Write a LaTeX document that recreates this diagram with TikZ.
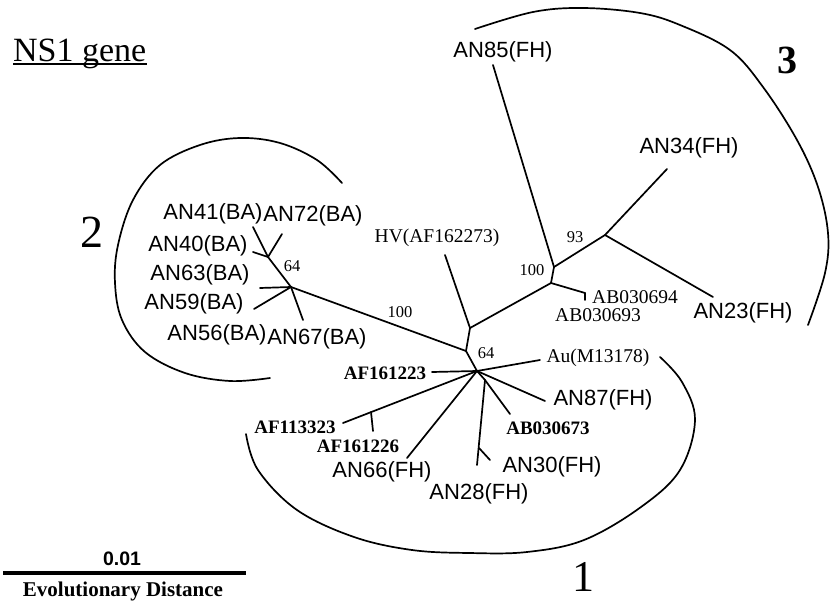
\documentclass[tikz,border=0pt]{standalone}
\usepackage{fontspec}
\setmainfont{Liberation Serif}
\newfontfamily\arialf{Liberation Sans}
\begin{document}
\begin{tikzpicture}[x=1pt,y=-1pt,
  br/.style={line width=1.7pt, line cap=round, line join=round},
  arcl/.style={line width=1.7pt, line cap=round},
  san/.style={font=\arialf\fontsize{22}{24}\selectfont, inner sep=0pt},
  ser/.style={font=\fontsize{19.5}{21}\selectfont, inner sep=0pt},
  serb/.style={font=\bfseries\fontsize{19}{21}\selectfont, inner sep=0pt},
  bs/.style={font=\fontsize{16.5}{18}\selectfont, inner sep=0pt},
  big/.style={font=\fontsize{46}{50}\selectfont, inner sep=0pt}]
\useasboundingbox (0,0) rectangle (833,605);

% ---- tree coordinates ----
% group 2
\coordinate (t41) at (253,227);
\coordinate (t72) at (282,234);
\coordinate (t40) at (253,252);
\coordinate (J1) at (268,257);
\coordinate (J2) at (291,287);
\coordinate (t63) at (260,288);
\coordinate (t59) at (254,309);
\coordinate (t67) at (303,320);
% core
\coordinate (B) at (466,351);
\coordinate (A) at (470,328);
\coordinate (C) at (477,371);
\coordinate (tHV) at (445,255);
% group 3
\coordinate (D) at (551,283);
\coordinate (E) at (554,267);
\coordinate (F) at (605,235);
\coordinate (t85) at (493,65);
\coordinate (t34) at (667,169);
\coordinate (t23) at (713,297);
\coordinate (tAB) at (585,293);
\coordinate (tAB2) at (585,300);
% group 1
\coordinate (G) at (485,380);
\coordinate (tAu) at (540,360);
\coordinate (t87) at (545,401);
\coordinate (t673) at (510,414);
\coordinate (t28) at (477,465);
\coordinate (k28) at (479,448);
\coordinate (t30) at (490,460);
\coordinate (t223) at (432,372);
\coordinate (t323) at (343,423);
\coordinate (k323) at (371,412);
\coordinate (t226) at (373,431);
\coordinate (t66) at (407,458);

% ---- branches ----
\draw[br] (t41) -- (J1);
\draw[br] (t72) -- (J1);
\draw[br] (t40) -- (J1);
\draw[br] (J1) -- (J2);
\draw[br] (t63) -- (J2);
\draw[br] (t59) -- (J2);
\draw[br] (t67) -- (J2);
\draw[br] (J2) -- (B);
\draw[br] (B) -- (A);
\draw[br] (B) -- (C);
\draw[br] (tHV) -- (A);
\draw[br] (A) -- (D);
\draw[br] (D) -- (E);
\draw[br] (D) -- (tAB);
\draw[br] (tAB) -- (tAB2);
\draw[br] (E) -- (t85);
\draw[br] (E) -- (F);
\draw[br] (F) -- (t34);
\draw[br] (F) -- (t23);
\draw[br] (C) -- (tAu);
\draw[br] (C) -- (t87);
\draw[br] (C) -- (G);
\draw[br] (G) -- (t673);
\draw[br] (G) -- (t28);
\draw[br] (k28) -- (t30);
\draw[br] (C) -- (t223);
\draw[br] (C) -- (t323);
\draw[br] (k323) -- (t226);
\draw[br] (C) -- (t66);

% ---- leaf labels ----
\node[san] (l41) at (213,214) {AN41(BA)};
\node[san] (l72) at (313,216) {AN72(BA)};
\node[san] (l40) at (198,246) {AN40(BA)};
\node[san] (l63) at (200,275) {AN63(BA)};
\node[san] (l59) at (194,304) {AN59(BA)};
\node[san] (l56) at (217,335) {AN56(BA)};
\node[san] (l67) at (317,339) {AN67(BA)};
\node[san] (l85) at (503,52) {AN85(FH)};
\node[san] (l34) at (689,148) {AN34(FH)};
\node[san] (l23) at (743,313) {AN23(FH)};
\node[san] (l87) at (603,400) {AN87(FH)};
\node[san] (l30) at (552,467) {AN30(FH)};
\node[san] (l28) at (479,494) {AN28(FH)};
\node[san] (l66) at (382,472) {AN66(FH)};
\node[ser] (lHV) at (437,238) {HV(AF162273)};
\node[ser] (l694) at (635,297) {AB030694};
\node[ser] (l693) at (598,315) {AB030693};
\node[ser] (lAu) at (598,358) {Au(M13178)};
\node[serb] (l223) at (385,373) {AF161223};
\node[serb] (l323) at (295,427) {AF113323};
\node[serb] (l226) at (358,446) {AF161226};
\node[serb] (l673) at (548,428) {AB030673};

% ---- bootstrap values ----
\node[bs] (b1) at (292,266) {64};
\node[bs] (b2) at (400,312) {100};
\node[bs] (b3) at (532,270) {100};
\node[bs] (b4) at (575,237) {93};
\node[bs] (b5) at (486,353) {64};

% ---- cluster arcs ----
\draw[arcl] plot[smooth, tension=0.6] coordinates {(342,183) (317,160) (280,143) (240,138) (200,145) (160,165) (133,200) (118,245) (115,283) (122,320) (145,352) (185,373) (230,381) (270,378)};
\draw[arcl] plot[smooth, tension=0.6] coordinates {(475,29) (533,12) (583,8) (640,13) (680,25) (730,50) (763,87) (797,140) (818,187) (828,233) (825,273) (808,325)};
\draw[arcl] plot[smooth, tension=0.6] coordinates {(246,434) (258,470) (297,510) (354,537) (412,550) (469,553) (527,552) (584,540) (641,507) (680,470) (695,420) (682,382) (660,357)};

\node[big] (c2) at (92,232) {2};
\node[font=\fontsize{44}{48}\selectfont, inner sep=0pt] (c1) at (583,577) {1};
\node[font=\bfseries\fontsize{40}{44}\selectfont, inner sep=0pt] (c3) at (787,60) {3};

% ---- title ----
\node[font=\fontsize{34}{38}\selectfont, inner sep=0pt, anchor=base west] (ttl) at (13,61) {NS1 gene};
\draw[line width=1.8pt] (ttl.base west) ++(0,3) coordinate (u1) -- (147,64);

% ---- scale bar ----
\coordinate (s1) at (3,573);
\coordinate (s2) at (246,573);
\draw[line width=3.5pt] (s1) -- (s2);
\node[font=\arialf\bfseries\fontsize{19.5}{21}\selectfont, inner sep=0pt] (sc) at (122,559) {0.01};
\node[font=\bfseries\fontsize{21}{23}\selectfont, inner sep=0pt] (ev) at (123,591) {Evolutionary Distance};
\end{tikzpicture}
\end{document}
